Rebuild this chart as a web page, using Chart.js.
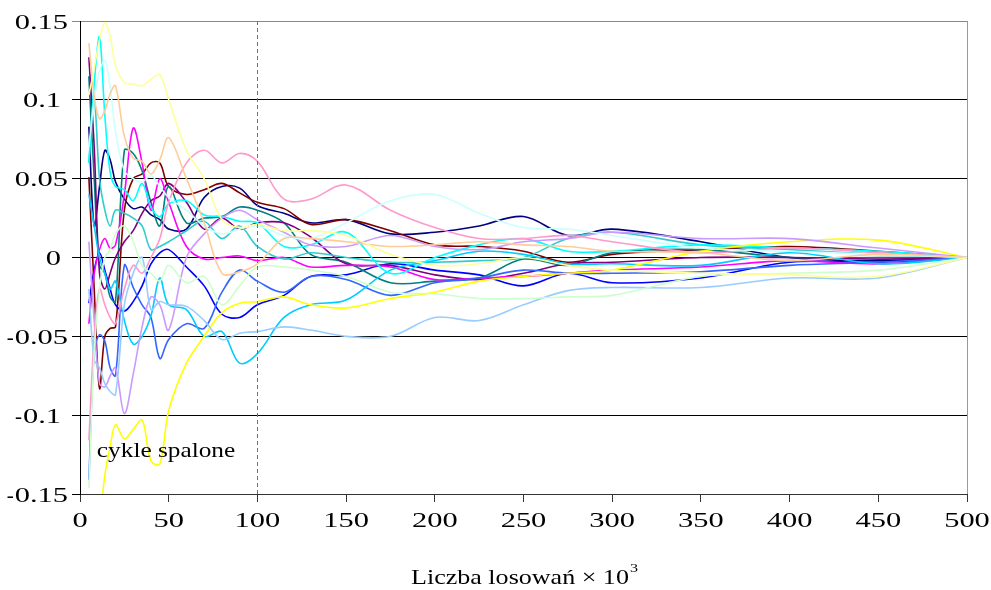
<!DOCTYPE html>
<html>
<head>
<meta charset="utf-8">
<script src="https://cdn.jsdelivr.net/npm/chart.js@4.4.0/dist/chart.umd.min.js"></script>
<style>
  html, body { margin: 0; padding: 0; background: #fff; }
  canvas { display: block; }
</style>
</head>
<body>
<canvas id="chart" width="991" height="590"></canvas>
<script>
// sample positions (thousands of draws)
const xs = [5, 8, 11, 14, 17, 20, 25, 30, 35, 40, 45, 50, 60, 70, 80, 90, 100, 115, 130, 150, 175, 200, 225, 250, 275, 300, 350, 400, 450, 500];

// one array per run
const navy = [0.083, 0.02, 0.045, 0.068, 0.062, 0.048, 0.037, 0.031, 0.032, 0.027, 0.024, 0.018, 0.018, 0.038, 0.045, 0.044, 0.033, 0.028, 0.022, 0.024, 0.015, 0.016, 0.02, 0.026, 0.014, 0.018, 0.01, 0.0, -0.002, 0.0];
const magenta = [-0.042, -0.01, 0.005, 0.012, 0.006, 0.008, 0.04, 0.082, 0.06, 0.03, 0.05, 0.035, 0.007, -0.001, 0.0, 0.001, -0.002, 0.0, -0.006, -0.005, -0.006, -0.014, -0.013, -0.012, -0.01, -0.008, -0.006, -0.002, -0.004, 0.0];
const yellow = [null, null, -0.17, -0.138, -0.12, -0.106, -0.115, -0.109, -0.103, -0.129, -0.131, -0.097, -0.067, -0.05, -0.035, -0.029, -0.028, -0.025, -0.03, -0.032, -0.026, -0.022, -0.015, -0.012, -0.01, -0.008, 0.004, 0.01, 0.011, 0.0];
const cyan = [0.06, 0.11, 0.14, 0.09, 0.054, 0.045, 0.043, 0.036, 0.047, 0.032, 0.026, 0.034, 0.036, 0.027, 0.026, 0.023, 0.022, 0.007, 0.008, 0.016, -0.01, 0.0, 0.008, 0.012, 0.004, 0.004, 0.008, 0.006, 0.004, 0.0];
const purple = [0.127, 0.07, -0.01, -0.02, -0.01, 0.0, 0.01, 0.017, 0.028, 0.036, 0.039, 0.047, 0.035, 0.018, 0.025, 0.018, 0.022, 0.022, 0.013, -0.004, -0.005, -0.011, -0.014, -0.01, -0.004, -0.003, 0.0, 0.0, -0.001, 0.0];
const maroon = [0.051, -0.02, -0.083, -0.05, -0.045, -0.044, 0.03, 0.05, 0.053, 0.06, 0.06, 0.045, 0.04, 0.043, 0.047, 0.041, 0.035, 0.031, 0.021, 0.024, 0.017, 0.008, 0.007, 0.004, -0.003, 0.002, 0.005, 0.007, 0.004, 0.0];
const teal = [0.115, 0.05, -0.005, -0.01, -0.025, -0.028, 0.068, 0.066, 0.055, 0.035, 0.02, 0.045, 0.022, 0.025, 0.026, 0.032, 0.03, 0.022, 0.002, -0.003, -0.016, -0.015, -0.013, -0.001, -0.005, 0.003, 0.005, 0.0, 0.0, 0.0];
const blue = [-0.029, -0.008, 0.003, -0.008, -0.02, -0.03, -0.034, -0.028, -0.018, -0.004, 0.003, 0.005, -0.006, -0.018, -0.036, -0.038, -0.03, -0.024, -0.012, -0.011, -0.004, -0.008, -0.011, -0.018, -0.01, -0.016, -0.013, -0.003, -0.003, 0.0];
const skyBlue = [0.04, 0.02, 0.0, -0.01, -0.02, -0.015, -0.04, -0.055, -0.05, -0.037, -0.013, -0.03, -0.033, -0.05, -0.047, -0.067, -0.061, -0.038, -0.03, -0.027, -0.008, -0.002, 0.004, 0.002, -0.004, -0.004, -0.005, 0.003, -0.004, 0.0];
const lightTurquoise = [0.07, 0.1, 0.118, 0.125, 0.108, 0.08, 0.055, 0.05, 0.048, 0.052, 0.045, 0.038, 0.03, 0.02, 0.015, 0.018, 0.02, 0.014, 0.012, 0.022, 0.036, 0.04, 0.028, 0.019, 0.018, 0.014, 0.006, 0.004, 0.002, 0.0];
const lightGreen = [-0.146, -0.06, -0.02, 0.0, 0.005, 0.015, 0.02, 0.01, -0.005, -0.01, -0.015, -0.005, -0.016, -0.012, -0.03, -0.018, -0.006, -0.006, -0.008, -0.012, -0.022, -0.023, -0.026, -0.026, -0.025, -0.024, -0.012, -0.01, -0.008, 0.0];
const lightYellow = [0.103, 0.12, 0.138, 0.149, 0.14, 0.122, 0.111, 0.11, 0.109, 0.113, 0.116, 0.1, 0.068, 0.05, 0.024, 0.019, 0.021, 0.017, 0.017, 0.014, 0.002, -0.005, -0.004, 0.0, -0.005, -0.008, -0.01, -0.011, -0.012, 0.0];
const paleBlue = [-0.02, -0.065, -0.07, -0.08, -0.085, -0.087, -0.03, -0.01, 0.0, -0.033, -0.028, -0.03, -0.031, -0.04, -0.052, -0.048, -0.047, -0.044, -0.046, -0.05, -0.05, -0.038, -0.04, -0.03, -0.021, -0.019, -0.019, -0.013, -0.013, 0.0];
const rose = [-0.116, -0.05, -0.02, -0.03, -0.038, -0.042, -0.02, -0.005, -0.01, 0.0, 0.012, 0.035, 0.06, 0.068, 0.06, 0.066, 0.061, 0.037, 0.037, 0.046, 0.03, 0.019, 0.012, 0.012, 0.014, 0.01, 0.003, 0.006, 0.003, 0.0];
const lavender = [0.01, -0.04, -0.08, -0.082, -0.075, -0.07, -0.099, -0.074, -0.044, -0.025, -0.03, -0.046, 0.0, 0.015, 0.025, 0.03, 0.024, 0.016, 0.008, 0.007, 0.014, 0.007, 0.005, 0.01, 0.012, 0.016, 0.012, 0.012, 0.006, 0.0];
const tan = [0.136, 0.102, 0.088, 0.093, 0.104, 0.109, 0.077, 0.063, 0.061, 0.053, 0.062, 0.076, 0.05, 0.022, -0.01, -0.009, -0.004, 0.012, 0.012, 0.01, 0.007, 0.008, 0.01, 0.008, 0.007, 0.004, 0.003, -0.002, 0.002, 0.0];
const royalBlue = [-0.141, -0.06, -0.049, -0.053, -0.07, -0.075, -0.005, -0.019, -0.03, -0.038, -0.064, -0.052, -0.042, -0.045, -0.022, -0.008, -0.015, -0.022, -0.012, -0.014, -0.024, -0.016, -0.013, -0.008, -0.01, -0.01, -0.009, -0.005, -0.003, 0.0];
const aqua = [0.06, 0.1, 0.05, 0.03, 0.02, 0.03, 0.028, 0.025, 0.02, 0.005, 0.007, 0.01, 0.017, 0.023, 0.012, 0.02, 0.007, -0.001, 0.003, 0.0, -0.003, -0.003, -0.002, 0.0, 0.012, 0.016, 0.008, 0.005, 0.002, 0.0];

const yTicks = [-0.15, -0.1, -0.05, 0, 0.05, 0.1, 0.15];
const xTicks = [0, 50, 100, 150, 200, 250, 300, 350, 400, 450, 500];
const burnIn = 100; // "cykle spalone" cut-off

const runs = [
  [lightYellow, "#FFFF99"], [tan, "#FFCC99"], [lightTurquoise, "#CCFFFF"],
  [lightGreen, "#CCFFCC"], [paleBlue, "#99CCFF"], [rose, "#FF99CC"],
  [lavender, "#CC99FF"], [yellow, "#FFFF00"], [cyan, "#00FFFF"],
  [skyBlue, "#00CCFF"], [aqua, "#33CCCC"], [royalBlue, "#3366FF"],
  [magenta, "#FF00FF"], [purple, "#800080"], [teal, "#008080"],
  [blue, "#0000FF"], [maroon, "#800000"], [navy, "#000080"],
];

const serif = "'Liberation Serif', 'Times New Roman', serif";

// the original text is drawn a bit wide, so labels are painted by hand
function wideText(ctx, text, x, y, align, sx) {
  const w = ctx.measureText(text).width * sx;
  const left = align === "right" ? x - w : align === "center" ? x - w / 2 : x;
  ctx.save();
  ctx.translate(left, y);
  ctx.scale(sx, 1);
  ctx.textAlign = "left";
  ctx.fillText(text, 0, 0);
  ctx.restore();
  return w;
}

const extras = {
  id: "extras",
  afterDatasetsDraw(chart) {
    const { ctx, chartArea, scales } = chart;
    const x100 = scales.x.getPixelForValue(burnIn);
    ctx.save();
    ctx.strokeStyle = "#707070";
    ctx.lineWidth = 1;
    ctx.setLineDash([4, 3]);
    ctx.beginPath();
    ctx.moveTo(Math.round(x100) + 0.5, chartArea.top);
    ctx.lineTo(Math.round(x100) + 0.5, chartArea.bottom);
    ctx.stroke();
    ctx.setLineDash([]);
    // right frame edge
    ctx.strokeStyle = "#999";
    ctx.beginPath();
    ctx.moveTo(chartArea.right + 0.5, chartArea.top);
    ctx.lineTo(chartArea.right + 0.5, chartArea.bottom);
    ctx.stroke();

    ctx.fillStyle = "#000";
    ctx.textBaseline = "middle";
    ctx.font = "21px " + serif;
    // y tick labels (minus sign kept narrow)
    yTicks.forEach((v) => {
      const txt = String(Math.abs(Math.round(v * 100) / 100));
      const right = /\.\d\d$/.test(txt) ? 68 : 61;
      const y = scales.y.getPixelForValue(v) + 2;
      const w = wideText(ctx, txt, right, y, "right", 1.45);
      if (v < 0) wideText(ctx, "-", right - w - 1, y, "right", 1.0);
    });
    // x tick labels
    xTicks.forEach((v) => {
      wideText(ctx, String(v), scales.x.getPixelForValue(v), 521, "center", 1.45);
    });
    // axis title with superscript
    const main = "Liczba losowań × 10";
    const mainW = ctx.measureText(main).width * 1.24;
    ctx.font = "13px " + serif;
    const supW = ctx.measureText("3").width * 1.24;
    const startX = 524 - (mainW + supW) / 2;
    ctx.font = "21px " + serif;
    wideText(ctx, main, startX, 578, "left", 1.24);
    ctx.font = "13px " + serif;
    wideText(ctx, "3", startX + mainW + 1, 569, "left", 1.24);
    // label for the burn-in part
    ctx.font = "22px " + serif;
    wideText(ctx, "cykle spalone", scales.x.getPixelForValue(9.5), scales.y.getPixelForValue(-0.123), "left", 1.15);
    ctx.restore();
  },
};

new Chart(document.getElementById("chart"), {
  type: "line",
  data: {
    datasets: runs.map(([vals, color]) => ({
      data: xs.map((x, i) => ({ x: x, y: vals[i] })),
      borderColor: color,
      borderWidth: 1.6,
      pointRadius: 0,
      tension: 0.35,
      fill: false,
    })),
  },
  options: {
    responsive: false,
    animation: false,
    layout: { padding: { top: 21, right: 24, left: 0, bottom: 0 } },
    plugins: { legend: { display: false }, tooltip: { enabled: false } },
    scales: {
      x: {
        type: "linear",
        min: 0,
        max: 500,
        afterBuildTicks: (s) => { s.ticks = xTicks.map((v) => ({ value: v })); },
        afterFit: (s) => { s.height = 96; },
        grid: { drawOnChartArea: false, tickLength: 8, color: "#333" },
        border: { color: "#333" },
        ticks: { display: false },
        title: { display: false },
      },
      y: {
        min: -0.15,
        max: 0.15,
        afterBuildTicks: (s) => { s.ticks = yTicks.map((v) => ({ value: v })); },
        afterFit: (s) => { s.width = 80; },
        grid: {
          tickLength: 8,
          color: (c) => (c.tick && c.tick.value === 0.15 ? "#888" : "#000"),
        },
        border: { color: "#000" },
        ticks: { display: false },
      },
    },
  },
  plugins: [extras],
});
</script>
</body>
</html>
